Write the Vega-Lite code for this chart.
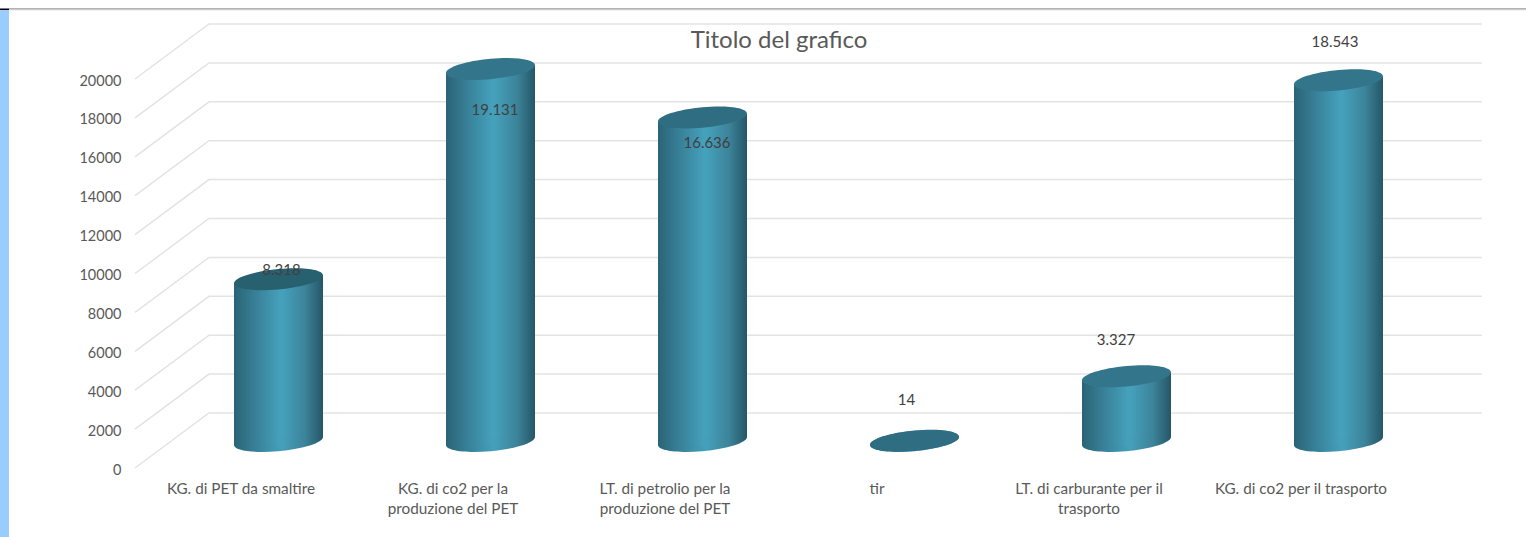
{"$schema":"https://vega.github.io/schema/vega-lite/v6.json","width":1272,"height":389,"autosize":"none","padding":{"left":135,"top":79,"right":119,"bottom":69},"background":"#ffffff","config":{"view":{"stroke":null},"axis":{"labelOverlap":false,"labelSeparation":0},"axisY":{"labelOverlap":false,"values":[0,2000,4000,6000,8000,10000,12000,14000,16000,18000,20000],"format":"d","title":null,"domain":false,"ticks":false,"grid":false,"labelFont":"Lato","labelFontSize":14.5,"labelColor":"#595959","labelPadding":14,"labelOffset":2,"tickCount":11}},
"title":{"text":"Titolo del grafico","font":"Lato","fontSize":24,"fontWeight":"normal","color":"#595959","anchor":"middle","dx":8,"offset":-45},
"datasets":{"vals":[{"cat":"KG. di PET da smaltire","value":8318,"label":"8.318"},{"cat":"KG. di co2  per la|produzione del PET","value":19131,"label":"19.131"},{"cat":"LT.  di petrolio per la|produzione del PET","value":16636,"label":"16.636"},{"cat":"tir","value":14,"label":"14"},{"cat":"LT. di carburante per il|trasporto","value":3327,"label":"3.327"},{"cat":"KG. di co2 per il trasporto","value":18543,"label":"18.543"}],
"grid":[{"g":0,"depth":0,"level":0},{"g":0,"depth":1,"level":2828},{"g":0,"depth":18.2,"level":2828},{"g":2000,"depth":0,"level":2000},{"g":2000,"depth":1,"level":4828},{"g":2000,"depth":18.2,"level":4828},{"g":4000,"depth":0,"level":4000},{"g":4000,"depth":1,"level":6828},{"g":4000,"depth":18.2,"level":6828},{"g":6000,"depth":0,"level":6000},{"g":6000,"depth":1,"level":8828},{"g":6000,"depth":18.2,"level":8828},{"g":8000,"depth":0,"level":8000},{"g":8000,"depth":1,"level":10828},{"g":8000,"depth":18.2,"level":10828},{"g":10000,"depth":0,"level":10000},{"g":10000,"depth":1,"level":12828},{"g":10000,"depth":18.2,"level":12828},{"g":12000,"depth":0,"level":12000},{"g":12000,"depth":1,"level":14828},{"g":12000,"depth":18.2,"level":14828},{"g":14000,"depth":0,"level":14000},{"g":14000,"depth":1,"level":16828},{"g":14000,"depth":18.2,"level":16828},{"g":16000,"depth":0,"level":16000},{"g":16000,"depth":1,"level":18828},{"g":16000,"depth":18.2,"level":18828},{"g":18000,"depth":0,"level":18000},{"g":18000,"depth":1,"level":20828},{"g":18000,"depth":18.2,"level":20828},{"g":20000,"depth":0,"level":20000},{"g":20000,"depth":1,"level":22828},{"g":20000,"depth":18.2,"level":22828}],
"frame":[{"part":"strip","d0":-1.824,"d1":-1.703,"v0":-3548,"v1":23548},{"part":"rule","d0":-1.703,"d1":18.8,"v0":23574,"v1":23625},{"part":"light","d0":-1.703,"d1":18.8,"v0":23522,"v1":23574},{"part":"corner","d0":-1.824,"d1":-1.703,"v0":23548,"v1":23625}]},
"layer":[
{"data":{"name":"frame"},"mark":{"type":"rect","clip":false},"encoding":{"x":{"field":"d0","type":"quantitative","scale":{"domain":[0,17.19],"nice":false,"zero":false},"axis":null},"x2":{"field":"d1"},"y":{"field":"v0","type":"quantitative","scale":{"domain":[0,20000],"nice":false},"axis":{"values":[0,2000,4000,6000,8000,10000,12000,14000,16000,18000,20000],"format":"d","title":null,"labelOverlap":false}},"y2":{"field":"v1"},"color":{"field":"part","type":"nominal","scale":{"domain":["strip","rule","light","corner"],"range":["#99CCFF","#666666","#E3E3E3","#000000"]},"legend":null}}},
{"data":{"name":"grid"},"mark":{"type":"line","color":"#E3E3E3","strokeWidth":1.5,"clip":false},"encoding":{"detail":{"field":"g"},"order":{"field":"depth"},"x":{"field":"depth","type":"quantitative","scale":{"domain":[0,17.19],"nice":false,"zero":false},"axis":null},"y":{"field":"level","type":"quantitative"}}},
{"data":{"name":"vals"},"mark":{"type":"point","filled":true,"opacity":1,"size":7921,"xOffset":37.5,"yOffset":-27,"shape":"M1,-0.09C1,0.037,0.5523,0.18,0,0.23C-0.5523,0.28,-1,0.217,-1,0.09C-1,-0.037,-0.5523,-0.18,0,-0.23C0.5523,-0.28,1,-0.217,1,-0.09Z","fill":{"gradient":"linear","x1":0,"x2":1,"y1":0,"y2":0,"stops":[{"offset":0,"color":"#2B6376"},{"offset":0.2,"color":"#367C93"},{"offset":0.54,"color":"#45A0BB"},{"offset":0.8,"color":"#3C8399"},{"offset":1,"color":"#255667"}]}},"encoding":{"x":{"field":"cat","type":"nominal","sort":null,"scale":{"type":"band","paddingInner":0,"paddingOuter":0},"axis":{"title":null,"domain":false,"ticks":false,"labelAngle":0,"labelFont":"Lato","labelFontSize":15.3,"labelColor":"#595959","labelPadding":13,"labelLineHeight":20.5,"labelLimit":300,"labelExpr":"split(datum.label,'|')"}},"y":{"datum":0,"type":"quantitative"}}},
{"data":{"name":"vals"},"mark":{"type":"bar","size":46,"xOffset":16,"yOffset":-23,"y2Offset":-23,"fill":{"gradient":"linear","x1":0,"x2":1,"y1":0,"y2":0,"stops":[{"offset":0,"color":"#2B6376"},{"offset":0.4,"color":"#367C93"},{"offset":1,"color":"#45A0BB"}]}},"encoding":{"x":{"field":"cat","type":"nominal","sort":null,"scale":{"type":"band","paddingInner":0,"paddingOuter":0},"axis":null},"y":{"field":"value","type":"quantitative"},"y2":{"datum":0}}},
{"data":{"name":"vals"},"mark":{"type":"bar","size":44.5,"xOffset":59.75,"yOffset":-31,"y2Offset":-31,"fill":{"gradient":"linear","x1":0,"x2":1,"y1":0,"y2":0,"stops":[{"offset":0,"color":"#45A0BB"},{"offset":0.1,"color":"#45A0BB"},{"offset":0.6,"color":"#3C8399"},{"offset":1,"color":"#255667"}]}},"encoding":{"x":{"field":"cat","type":"nominal","sort":null,"scale":{"type":"band","paddingInner":0,"paddingOuter":0},"axis":null},"y":{"field":"value","type":"quantitative"},"y2":{"datum":0}}},
{"data":{"name":"vals"},"mark":{"type":"point","filled":true,"opacity":1,"size":7921,"xOffset":37.5,"yOffset":-27,"shape":"M1,-0.09C1,0.037,0.5523,0.18,0,0.23C-0.5523,0.28,-1,0.217,-1,0.09C-1,-0.037,-0.5523,-0.18,0,-0.23C0.5523,-0.28,1,-0.217,1,-0.09Z"},"encoding":{"x":{"field":"cat","type":"nominal","sort":null,"scale":{"type":"band","paddingInner":0,"paddingOuter":0},"axis":null},"y":{"field":"value","type":"quantitative"},"color":{"field":"label","type":"nominal","scale":{"domain":["8.318","19.131","16.636","14","3.327","18.543"],"range":["#27606F","#33758A","#2F6E82","#2F6E82","#33758A","#33758A"]},"legend":null}}},
{"data":{"name":"vals"},"transform":[{"filter":"datum.label==='8.318'"}],"mark":{"type":"text","font":"Lato","fontSize":15,"color":"#404040","dx":40.5,"dy":-36},"encoding":{"x":{"field":"cat","type":"nominal","sort":null,"scale":{"type":"band","domain":["KG. di PET da smaltire","KG. di co2  per la|produzione del PET","LT.  di petrolio per la|produzione del PET","tir","LT. di carburante per il|trasporto","KG. di co2 per il trasporto"],"paddingInner":0,"paddingOuter":0},"axis":null},"y":{"field":"value","type":"quantitative"},"text":{"field":"label"}}},
{"data":{"name":"vals"},"transform":[{"filter":"datum.label==='19.131'"}],"mark":{"type":"text","font":"Lato","fontSize":15,"color":"#404040","dx":42,"dy":14},"encoding":{"x":{"field":"cat","type":"nominal","sort":null,"scale":{"type":"band","domain":["KG. di PET da smaltire","KG. di co2  per la|produzione del PET","LT.  di petrolio per la|produzione del PET","tir","LT. di carburante per il|trasporto","KG. di co2 per il trasporto"],"paddingInner":0,"paddingOuter":0},"axis":null},"y":{"field":"value","type":"quantitative"},"text":{"field":"label"}}},
{"data":{"name":"vals"},"transform":[{"filter":"datum.label==='16.636'"}],"mark":{"type":"text","font":"Lato","fontSize":15,"color":"#404040","dx":42,"dy":-1},"encoding":{"x":{"field":"cat","type":"nominal","sort":null,"scale":{"type":"band","domain":["KG. di PET da smaltire","KG. di co2  per la|produzione del PET","LT.  di petrolio per la|produzione del PET","tir","LT. di carburante per il|trasporto","KG. di co2 per il trasporto"],"paddingInner":0,"paddingOuter":0},"axis":null},"y":{"field":"value","type":"quantitative"},"text":{"field":"label"}}},
{"data":{"name":"vals"},"transform":[{"filter":"datum.label==='14'"}],"mark":{"type":"text","font":"Lato","fontSize":15,"color":"#404040","dx":29.5,"dy":-68},"encoding":{"x":{"field":"cat","type":"nominal","sort":null,"scale":{"type":"band","domain":["KG. di PET da smaltire","KG. di co2  per la|produzione del PET","LT.  di petrolio per la|produzione del PET","tir","LT. di carburante per il|trasporto","KG. di co2 per il trasporto"],"paddingInner":0,"paddingOuter":0},"axis":null},"y":{"field":"value","type":"quantitative"},"text":{"field":"label"}}},
{"data":{"name":"vals"},"transform":[{"filter":"datum.label==='3.327'"}],"mark":{"type":"text","font":"Lato","fontSize":15,"color":"#404040","dx":27,"dy":-63},"encoding":{"x":{"field":"cat","type":"nominal","sort":null,"scale":{"type":"band","domain":["KG. di PET da smaltire","KG. di co2  per la|produzione del PET","LT.  di petrolio per la|produzione del PET","tir","LT. di carburante per il|trasporto","KG. di co2 per il trasporto"],"paddingInner":0,"paddingOuter":0},"axis":null},"y":{"field":"value","type":"quantitative"},"text":{"field":"label"}}},
{"data":{"name":"vals"},"transform":[{"filter":"datum.label==='18.543'"}],"mark":{"type":"text","font":"Lato","fontSize":15,"color":"#404040","dx":34,"dy":-65},"encoding":{"x":{"field":"cat","type":"nominal","sort":null,"scale":{"type":"band","domain":["KG. di PET da smaltire","KG. di co2  per la|produzione del PET","LT.  di petrolio per la|produzione del PET","tir","LT. di carburante per il|trasporto","KG. di co2 per il trasporto"],"paddingInner":0,"paddingOuter":0},"axis":null},"y":{"field":"value","type":"quantitative"},"text":{"field":"label"}}}
],
"resolve":{"scale":{"x":"independent","color":"independent"},"axis":{"x":"independent"}}}
